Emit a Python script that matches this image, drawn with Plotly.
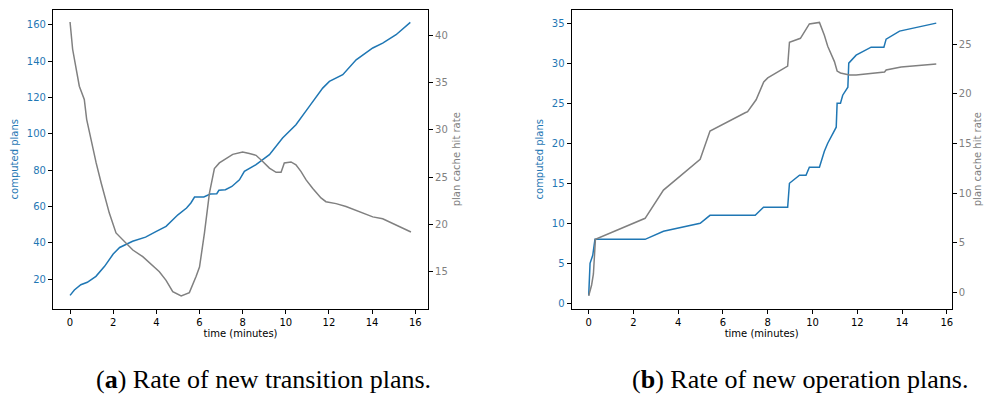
import plotly.graph_objects as go

# ---- (a) transition plans ----
a_plans_t = [0, 0.2, 0.5, 0.8, 1.2, 1.6, 2.0, 2.3, 2.9, 3.5, 4.0, 4.45, 5.0, 5.4, 5.6, 5.77, 6.2, 6.5,
             6.8, 6.9, 7.2, 7.5, 7.85, 8.08, 8.62, 9.24, 9.85, 10.47, 11.09, 11.71, 12.02, 12.64, 13.26,
             13.72, 14.03, 14.49, 15.11, 15.77]
a_plans = [11, 14, 16.9, 18.2, 21.5, 27, 33.8, 37.4, 40.8, 43.1, 46.3, 49, 55.4, 59.1, 61.9, 65.2, 65.2,
           66.8, 67, 68.9, 69.2, 71, 74.7, 79.3, 83, 88.5, 97.7, 105, 115.1, 125.2, 128.9, 132.6, 140.8,
           144.5, 147.3, 150, 154.6, 161.4]

a_hit_t = [0, 0.12, 0.43, 0.66, 0.77, 0.97, 1.21, 1.44, 1.82, 2.13, 2.44, 2.91, 3.37, 3.6, 4.14, 4.45,
           4.76, 5.15, 5.53, 5.84, 6.0, 6.23, 6.46, 6.69, 6.92, 7.54, 8.0, 8.31, 8.62, 8.93, 9.24, 9.55,
           9.78, 9.85, 9.93, 10.24, 10.47, 10.7, 10.94, 11.25, 11.63, 11.86, 12.33, 12.79, 13.26, 13.57,
           14.03, 14.49, 15.11, 15.8]
a_hit = [41.38, 38.5, 34.6, 33.2, 31.1, 28.9, 26.5, 24.4, 21.2, 19.1, 18.4, 17.3, 16.6, 16.1, 15.0, 14.1,
         12.9, 12.46, 12.8, 14.5, 15.5, 19.1, 23.3, 25.9, 26.5, 27.4, 27.64, 27.5, 27.3, 26.65, 25.95, 25.5,
         25.5, 25.95, 26.5, 26.6, 26.3, 25.6, 24.7, 23.8, 22.8, 22.4, 22.2, 21.9, 21.5, 21.2, 20.8, 20.6,
         19.9, 19.2]

# ---- (b) operation plans ----
b_plans_t = [0, 0.06, 0.18, 0.28, 2.52, 3.34, 4.98, 5.42, 7.44, 7.81, 8.89, 8.97, 9.42, 9.71, 9.86, 10.31,
             10.53, 10.68, 11.06, 11.1, 11.25, 11.35, 11.58, 11.62, 11.95, 12.62, 13.19, 13.29, 13.89, 15.53]
b_plans = [1, 5, 6, 8, 8, 9, 10, 11, 11, 12, 12, 15, 16, 16, 17, 17, 19, 20, 22, 25, 25, 26, 27, 30, 31,
           32, 32, 33, 34, 35]

b_hit_t = [0, 0.13, 0.21, 0.3, 2.52, 3.34, 4.98, 5.42, 6.99, 7.1, 7.48, 7.82, 8.0, 8.89, 8.97, 9.46, 9.86,
           10.31, 10.53, 10.68, 10.98, 11.1, 11.25, 11.65, 11.95, 13.22, 13.29, 13.96, 15.53]
b_hit = [-0.34, 0.74, 1.85, 5.34, 7.46, 10.3, 13.4, 16.26, 18.1, 18.2, 19.4, 21.2, 21.6, 22.8, 25.2, 25.6,
         27.05, 27.2, 25.9, 24.8, 23.25, 22.3, 22.1, 21.9, 21.9, 22.2, 22.4, 22.7, 23.0]

x_ticks = [0, 2, 4, 6, 8, 10, 12, 14, 16]
captions = ["(<b>a</b>) Rate of new transition plans.", "(<b>b</b>) Rate of new operation plans."]
hit_title = "plan cache hit rate"

BLUE = "#1f77b4"
GREY = "#808080"
FONT = "DejaVu Sans"

fig = go.Figure()
fig.add_trace(go.Scatter(x=a_plans_t, y=a_plans, mode="lines", line=dict(color=BLUE, width=1.5),
                         xaxis="x", yaxis="y", showlegend=False))
fig.add_trace(go.Scatter(x=a_hit_t, y=a_hit, mode="lines", line=dict(color=GREY, width=1.5),
                         xaxis="x", yaxis="y2", showlegend=False))
fig.add_trace(go.Scatter(x=b_plans_t, y=b_plans, mode="lines", line=dict(color=BLUE, width=1.5),
                         xaxis="x2", yaxis="y3", showlegend=False))
fig.add_trace(go.Scatter(x=b_hit_t, y=b_hit, mode="lines", line=dict(color=GREY, width=1.5),
                         xaxis="x2", yaxis="y4", showlegend=False))

W, H = 992, 399

def px(x):
    return x / W

def py(y):
    return 1 - y / H

ydom = [py(309), py(9.5)]

common = dict(showline=True, linecolor="black", linewidth=1.2, ticks="outside", ticklen=4,
              tickwidth=1, tickcolor="black", showgrid=False, zeroline=False, automargin=False)

def xax(dom, rng, anchor):
    return dict(domain=dom, range=rng, anchor=anchor, tickvals=x_ticks, mirror=True,
                tickfont=dict(family=FONT, size=10, color="black"),
                title=dict(text="time (minutes)", font=dict(family=FONT, size=10, color="black"), standoff=2),
                **common)

def yax(rng, dtick, color, title, anchor, side="left", overlay=None, standoff=6):
    d = dict(domain=ydom, range=rng, dtick=dtick, anchor=anchor, side=side,
             tickfont=dict(family=FONT, size=10, color=color),
             title=dict(text=title, font=dict(family=FONT, size=10, color=color), standoff=standoff),
             **common)
    if overlay:
        d["overlaying"] = overlay
    return d

cap_font = dict(family="Liberation Serif", size=26, color="black")

fig.update_layout(
    width=W, height=H, margin=dict(l=0, r=0, t=0, b=0),
    paper_bgcolor="white", plot_bgcolor="white",
    xaxis=xax([px(53), px(428)], [-0.79, 16.59], "y"),
    yaxis=yax([3.5, 168.5], 20, BLUE, "computed plans", "x"),
    yaxis2=yax([11.07, 42.7], 5, GREY, hit_title, "x", side="right", overlay="y"),
    xaxis2=xax([px(571.7), px(951.7)], [-0.76, 16.22], "y3"),
    yaxis3=yax([-0.7, 36.7], 5, BLUE, "computed plans", "x2"),
    yaxis4=yax([-1.68, 28.5], 5, GREY, "", "x2", side="right", overlay="y3"),
    annotations=[
        dict(text=captions[0], x=px(263), y=py(379), xref="paper", yref="paper",
             showarrow=False, xanchor="center", yanchor="middle", font=cap_font),
        dict(text=captions[1], x=px(800), y=py(379), xref="paper", yref="paper",
             showarrow=False, xanchor="center", yanchor="middle", font=cap_font),
        dict(text=hit_title, x=px(977), y=(ydom[0] + ydom[1]) / 2, xref="paper", yref="paper",
             showarrow=False, xanchor="center", yanchor="middle", textangle=-90,
             font=dict(family=FONT, size=10, color=GREY)),
    ],
)

# remove the default 8px page margin so the 992x399 figure fills the window exactly
fig.write_html("out.html",
               config={"displayModeBar": False},
               post_script="document.body.style.margin='0';document.body.style.overflow='hidden';")
